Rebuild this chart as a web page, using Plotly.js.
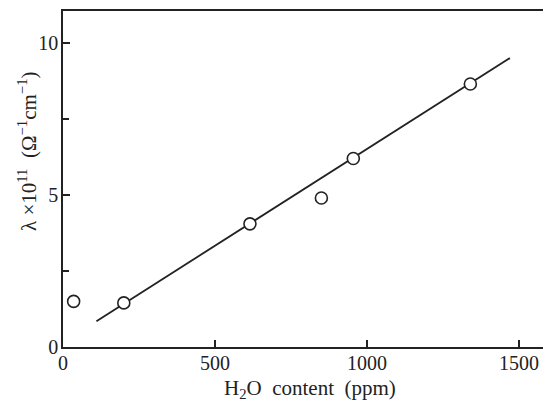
<!DOCTYPE html>
<html><head><meta charset="utf-8">
<script src="https://cdn.plot.ly/plotly-3.0.1.min.js"></script>
<style>html,body{margin:0;padding:0;background:#fff}#c{width:543px;height:403px}</style>
</head><body><div id="c"></div>
<script>
// measured points: H2O content (ppm) vs conductivity lambda x 1e11
const waterPpm = [35, 200, 615, 850, 955, 1340];
const lambdaVals = [1.5, 1.45, 4.05, 4.9, 6.2, 8.65];
// fitted straight line end points
const fitX = [110, 1470];
const fitY = [0.85, 9.5];
const xTickVals = [0, 500, 1000, 1500];
const yTickVals = [0, 5, 10];
const yMinorVals = [2.5, 7.5];

const font = {family: 'Liberation Serif, DejaVu Serif, serif', color: '#222', size: 20};
const titleFont = {family: 'Liberation Serif, DejaVu Serif, serif', color: '#222', size: 21};

const traces = [
  {x: fitX, y: fitY, mode: 'lines', line: {color: '#222', width: 1.8}, hoverinfo: 'skip'},
  {x: waterPpm, y: lambdaVals, mode: 'markers',
   marker: {symbol: 'circle', size: 12, color: '#fff', line: {color: '#222', width: 1.6}}}
];

const layout = {
  width: 543, height: 403,
  margin: {l: 63, r: 0, t: 11, b: 56},
  paper_bgcolor: '#fff', plot_bgcolor: '#fff',
  showlegend: false,
  font: font,
  xaxis: {
    range: [0, 1579], tickvals: xTickVals, ticktext: xTickVals.map(String),
    ticks: 'inside', ticklen: 7, tickwidth: 1.3, tickcolor: '#222',
    showline: true, linecolor: '#222', linewidth: 1.8, mirror: true,
    showgrid: false, zeroline: false, tickfont: font, ticklabelstandoff: -3
  },
  yaxis: {
    range: [0, 11.05], tickvals: yTickVals, ticktext: yTickVals.map(String),
    ticks: 'inside', ticklen: 7, tickwidth: 1.3, tickcolor: '#222',
    minor: {tickvals: yMinorVals, ticks: 'inside', ticklen: 6, tickwidth: 1.2, tickcolor: '#222'},
    showline: true, linecolor: '#222', linewidth: 1.8,
    showgrid: false, zeroline: false, tickfont: font, ticklabelstandoff: -1
  },
  annotations: [
    {text: 'H<sub>2</sub>O&nbsp;&nbsp;content&nbsp;&nbsp;(ppm)', xref: 'paper', yref: 'paper',
     x: (310 - 63) / 480, y: -(389 - 347) / 336, xanchor: 'center', yanchor: 'middle',
     showarrow: false, font: titleFont},
    {text: 'λ ×10<sup>11</sup>&nbsp; (Ω<sup>−1</sup>cm<sup>−1</sup>)', xref: 'paper', yref: 'paper',
     x: -(63 - 28) / 480, y: (347 - 152) / 336, xanchor: 'center', yanchor: 'middle',
     textangle: -90, showarrow: false, font: titleFont}
  ]
};
Plotly.newPlot('c', traces, layout, {staticPlot: true});
</script>
</body></html>
